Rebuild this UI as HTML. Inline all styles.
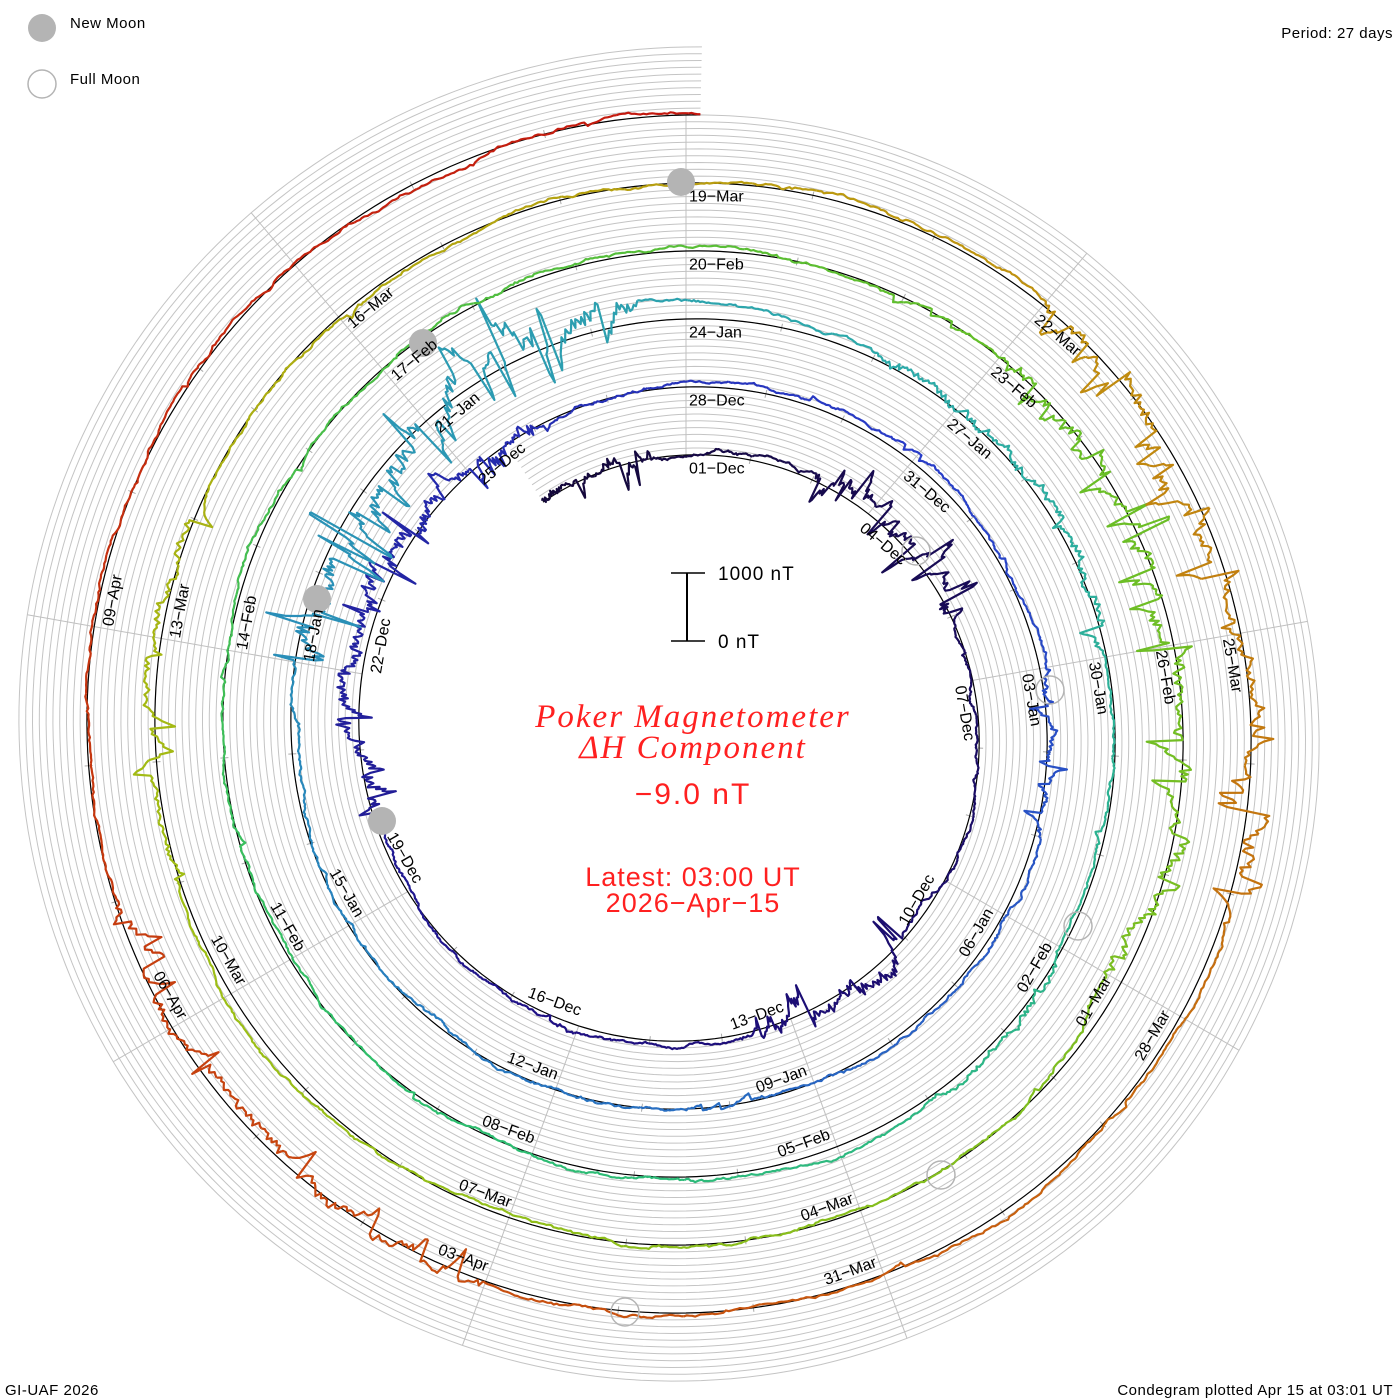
<!DOCTYPE html>
<html><head><meta charset="utf-8"><style>
html,body{margin:0;padding:0;background:#fff}
svg{display:block}
.lbl{font-family:"Liberation Sans",sans-serif;font-size:16px;fill:#000;dominant-baseline:central}
.sm{font-family:"Liberation Sans",sans-serif;font-size:15px;fill:#000;letter-spacing:0.5px}
</style></head><body>
<svg id="s" width="1400" height="1400" viewBox="0 0 1400 1400" xmlns="http://www.w3.org/2000/svg">
<g id="grid"></g>
<g id="data"></g>
<g id="moons">
<circle cx="681" cy="182" r="14" fill="#b4b4b4"/>
<circle cx="423" cy="343" r="14" fill="#b4b4b4"/>
<circle cx="317" cy="599" r="14" fill="#b4b4b4"/>
<circle cx="382" cy="821" r="14" fill="#b4b4b4"/>
<circle cx="916" cy="551" r="14" fill="none" stroke="#b4b4b4" stroke-width="1.5"/>
<circle cx="1050" cy="690" r="14" fill="none" stroke="#b4b4b4" stroke-width="1.5"/>
<circle cx="1078" cy="926" r="14" fill="none" stroke="#b4b4b4" stroke-width="1.5"/>
<circle cx="941" cy="1175" r="14" fill="none" stroke="#b4b4b4" stroke-width="1.5"/>
<circle cx="625" cy="1312" r="14" fill="none" stroke="#b4b4b4" stroke-width="1.5"/>
</g>
<g id="labels">
<text class="lbl">01−Dec</text><text class="lbl">04−Dec</text><text class="lbl">07−Dec</text><text class="lbl">10−Dec</text><text class="lbl">13−Dec</text><text class="lbl">16−Dec</text><text class="lbl">19−Dec</text><text class="lbl">22−Dec</text><text class="lbl">25−Dec</text><text class="lbl">28−Dec</text><text class="lbl">31−Dec</text><text class="lbl">03−Jan</text><text class="lbl">06−Jan</text><text class="lbl">09−Jan</text><text class="lbl">12−Jan</text><text class="lbl">15−Jan</text><text class="lbl">18−Jan</text><text class="lbl">21−Jan</text><text class="lbl">24−Jan</text><text class="lbl">27−Jan</text><text class="lbl">30−Jan</text><text class="lbl">02−Feb</text><text class="lbl">05−Feb</text><text class="lbl">08−Feb</text><text class="lbl">11−Feb</text><text class="lbl">14−Feb</text><text class="lbl">17−Feb</text><text class="lbl">20−Feb</text><text class="lbl">23−Feb</text><text class="lbl">26−Feb</text><text class="lbl">01−Mar</text><text class="lbl">04−Mar</text><text class="lbl">07−Mar</text><text class="lbl">10−Mar</text><text class="lbl">13−Mar</text><text class="lbl">16−Mar</text><text class="lbl">19−Mar</text><text class="lbl">22−Mar</text><text class="lbl">25−Mar</text><text class="lbl">28−Mar</text><text class="lbl">31−Mar</text><text class="lbl">03−Apr</text><text class="lbl">06−Apr</text><text class="lbl">09−Apr</text>
</g>
<line x1="687" y1="573" x2="687" y2="641" stroke="#000" stroke-width="2"/>
<line x1="671" y1="573" x2="705" y2="573" stroke="#000" stroke-width="1.5"/>
<line x1="671" y1="641" x2="705" y2="641" stroke="#000" stroke-width="1.5"/>
<text x="718" y="580" font-family="Liberation Sans,sans-serif" font-size="19" fill="#000" letter-spacing="1">1000 nT</text>
<text x="718" y="648" font-family="Liberation Sans,sans-serif" font-size="19" fill="#000" letter-spacing="1">0 nT</text>
<text x="693" y="727" text-anchor="middle" font-family="Liberation Serif,serif" font-style="italic" font-size="33" fill="#ff2020" letter-spacing="2">Poker Magnetometer</text>
<text x="693" y="758" text-anchor="middle" font-family="Liberation Serif,serif" font-style="italic" font-size="33" fill="#ff2020" letter-spacing="2">ΔH Component</text>
<text x="693" y="804" text-anchor="middle" font-family="Liberation Sans,sans-serif" font-size="30" fill="#ff2020" letter-spacing="2">−9.0 nT</text>
<text x="693" y="886" text-anchor="middle" font-family="Liberation Sans,sans-serif" font-size="27" fill="#ff2020" letter-spacing="1">Latest: 03:00 UT</text>
<text x="693" y="912" text-anchor="middle" font-family="Liberation Sans,sans-serif" font-size="27" fill="#ff2020" letter-spacing="1">2026−Apr−15</text>
<circle cx="42" cy="28" r="14" fill="#b4b4b4"/>
<text x="70" y="28" class="sm">New Moon</text>
<circle cx="42" cy="84" r="14" fill="none" stroke="#b4b4b4" stroke-width="1.5"/>
<text x="70" y="84" class="sm">Full Moon</text>
<text x="1393" y="38" text-anchor="end" class="sm">Period: 27 days</text>
<text x="5" y="1395" class="sm">GI-UAF 2026</text>
<text x="1393" y="1395" text-anchor="end" class="sm">Condegram plotted Apr 15 at 03:01 UT</text>
</svg>
<script>
(function(){
var NS="http://www.w3.org/2000/svg";
var cx=686,cy=731,R0=276,G=68;
function pt(d,off){var th=d/27*2*Math.PI;var r=R0+G*d/27+off;return [cx+r*Math.sin(th),cy-r*Math.cos(th)];}
function mk(tag,attrs,parent){var e=document.createElementNS(NS,tag);for(var k in attrs)e.setAttribute(k,attrs[k]);parent.appendChild(e);return e;}
var grid=document.getElementById('grid'),data=document.getElementById('data');
var D0=-2.4,D1=135.1;
function spiral(off){var s=[];for(var d=D0;d<=D1+1e-9;d+=0.1){var p=pt(d,off);s.push(p[0].toFixed(1)+','+p[1].toFixed(1));}var p=pt(D1,off);s.push(p[0].toFixed(1)+','+p[1].toFixed(1));return s.join(' ');}
for(var j=1;j<=10;j++){mk('polyline',{points:spiral(j*6.8),fill:'none',stroke:'#c4c4c4','stroke-width':1},grid);}
for(var k=0;k<9;k++){var a=k*40*Math.PI/180;var rin=R0+G*k/9;var rout=rin+5*G;
mk('line',{x1:(cx+rin*Math.sin(a)).toFixed(1),y1:(cy-rin*Math.cos(a)).toFixed(1),x2:(cx+rout*Math.sin(a)).toFixed(1),y2:(cy-rout*Math.cos(a)).toFixed(1),stroke:'#c0c0c0','stroke-width':1},grid);}
for(var d=0;d<=135;d++){if(d%3==0)continue;var p1=pt(d,-4),p2=pt(d,4);mk('line',{x1:p1[0],y1:p1[1],x2:p2[0],y2:p2[1],stroke:'#aaa','stroke-width':1},grid);}
mk('polyline',{points:spiral(0),fill:'none',stroke:'#000','stroke-width':1.2},grid);
var stops=[[-3,[20,8,55]],[15,[30,15,130]],[30,[40,60,200]],[45,[40,130,190]],[56,[45,170,170]],[70,[45,190,110]],[84,[100,190,40]],[100,[160,190,20]],[110,[190,150,15]],[120,[200,90,15]],[136,[195,20,15]]];
function col(d){for(var i=0;i<stops.length-1;i++){if(d<=stops[i+1][0]){var t=(d-stops[i][0])/(stops[i+1][0]-stops[i][0]);var a=stops[i][1],b=stops[i+1][1];return 'rgb('+[0,1,2].map(function(q){return Math.round(a[q]+(b[q]-a[q])*t)}).join(',')+')';}}return 'rgb(195,20,15)';}
var seed=12345;function rnd(){seed=(seed*1103515245+12345)&0x7fffffff;return seed/0x7fffffff;}
function gauss(){return Math.sqrt(-2*Math.log(rnd()+1e-9))*Math.cos(2*Math.PI*rnd());}
var storms=[[-2.4,-0.5,2],[2,5,3],[10,12.5,2.5],[19,25,3],[33,35,1.5],[48,53.5,4],[56,60,1.5],[63,65,1],[84,90,2.5],[100,103,1.5],[111,116,2.5],[123,127,2]];
function act(d){var a=0.15;for(var i=0;i<storms.length;i++){if(d>=storms[i][0]&&d<=storms[i][1])a=Math.max(a,storms[i][2]);}return a;}
var step=1/48,base=2,vals=[],spike=0;
for(var d=D0;d<=D1;d+=step){base=base*0.985+gauss()*0.9*(0.6+act(d)*0.4)+0.03;var a=act(d);
if(rnd()<0.035*a){spike=-(4+rnd()*14*a)*(rnd()<0.7?1:-0.7);}
var v=base+spike;spike*=0.75;if(Math.abs(spike)<0.5)spike=0;
vals.push([d,v+gauss()*1.0*a]);}
var seg=[],cur=null;
for(var i=0;i<vals.length;i++){var d=vals[i][0];var p=pt(d,vals[i][1]);var key=Math.floor(d*2);
if(cur===null||cur.k!==key){if(cur){cur.pts.push(p[0].toFixed(1)+','+p[1].toFixed(1));seg.push(cur);}cur={k:key,d:d,pts:[]};}
cur.pts.push(p[0].toFixed(1)+','+p[1].toFixed(1));}
if(cur)seg.push(cur);
seg.forEach(function(s){mk('polyline',{points:s.pts.join(' '),fill:'none',stroke:col(s.d+0.25),'stroke-width':2.2,'stroke-linejoin':'round'},data);});
var L=document.querySelectorAll('#labels text');
for(var i=0;i<L.length;i++){var d=i*3;var th=(d/27*360)%360;var r=R0+G*d/27-14;
var tr='translate('+cx+','+cy+') rotate('+th.toFixed(2)+') translate(0,'+(-r).toFixed(1)+')';
if(th>90&&th<270){tr+=' rotate(180)';L[i].setAttribute('text-anchor','end');L[i].setAttribute('x','-3');}
else{L[i].setAttribute('text-anchor','start');L[i].setAttribute('x','3');}
L[i].setAttribute('transform',tr);}
})();
</script>
</body></html>
